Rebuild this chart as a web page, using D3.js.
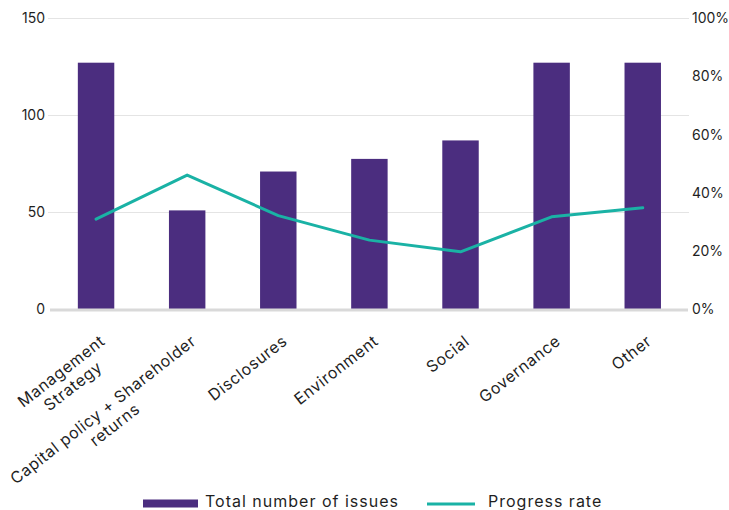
<!DOCTYPE html>
<html>
<head>
<meta charset="utf-8">
<script src="https://cdn.jsdelivr.net/npm/d3@7"></script>
<style>
  html, body { margin: 0; padding: 0; background: #fff; }
  svg { display: block; font-family: Inter, "Open Sans", sans-serif; }
</style>
</head>
<body>
<svg id="chart" width="729" height="510"></svg>
<script>
// ---- data ----
const categories = [
  "Management\nStrategy",
  "Capital policy + Shareholder\nreturns",
  "Disclosures",
  "Environment",
  "Social",
  "Governance",
  "Other"
];
const totalIssues = [127, 51, 71, 77.5, 87, 127, 127];
const progressRate = [0.31, 0.461, 0.322, 0.238, 0.198, 0.318, 0.349];
const leftTicks = [0, 50, 100, 150];
const rightTicks = [0, 0.2, 0.4, 0.6, 0.8, 1.0];
const seriesNames = ["Total number of issues", "Progress rate"];

// ---- styles ----
const purple = "#4B2D7F";
const teal = "#1AB2A5";
const textColor = "#1f1f1f";

const svg = d3.select("#chart");

const x = d3.scaleBand().domain(categories).range([50.5, 688.3]).paddingInner(0.6).paddingOuter(0.3);
const y = d3.scaleLinear().domain([0, 150]).range([309.5, 18]);
const yR = d3.scaleLinear().domain([0, 1]).range([309.5, 18]);
const cx = c => x(c) + x.bandwidth() / 2;

// gridlines
svg.append("g").selectAll("line")
  .data(leftTicks.filter(d => d > 0))
  .join("line")
  .attr("x1", 48).attr("x2", 689)
  .attr("y1", d => Math.round(y(d)) + 0.5).attr("y2", d => Math.round(y(d)) + 0.5)
  .attr("stroke", "#e4e4e4").attr("stroke-width", 1);

// bars
svg.append("g").selectAll("rect")
  .data(categories)
  .join("rect")
  .attr("x", c => x(c))
  .attr("width", x.bandwidth())
  .attr("y", (c, i) => y(totalIssues[i]))
  .attr("height", (c, i) => y(0) - y(totalIssues[i]))
  .attr("fill", purple);

// baseline
svg.append("line")
  .attr("x1", 50).attr("x2", 688)
  .attr("y1", y(0) + 0.6).attr("y2", y(0) + 0.6)
  .attr("stroke", "#d9d9d9").attr("stroke-width", 3);

// line
const line = d3.line()
  .x((d, i) => cx(categories[i]))
  .y(d => yR(d));
svg.append("path")
  .datum(progressRate)
  .attr("d", line)
  .attr("fill", "none")
  .attr("stroke", teal)
  .attr("stroke-width", 3)
  .attr("stroke-linejoin", "round")
  .attr("stroke-linecap", "round");

// left axis
const gL = svg.append("g")
  .attr("transform", "translate(49,0)")
  .call(d3.axisLeft(y).tickValues(leftTicks).tickSize(0).tickPadding(4));
gL.select(".domain").remove();
gL.selectAll("text").attr("font-size", 14).attr("fill", textColor).attr("font-family", "Inter, sans-serif");

// right axis
const gR = svg.append("g")
  .attr("transform", "translate(689,0)")
  .call(d3.axisRight(yR).tickValues(rightTicks).tickFormat(d3.format(".0%")).tickSize(0).tickPadding(3));
gR.select(".domain").remove();
gR.selectAll("text").attr("font-size", 14).attr("fill", textColor).attr("font-family", "Inter, sans-serif");

// category labels (rotated, centered multi-line blocks anchored top-right)
const angle = -38;
const lineH = 19;
const labelG = svg.append("g");
categories.forEach(c => {
  const lines = c.split("\n");
  const g = labelG.append("g")
    .attr("transform", `translate(${cx(c) + 2},${333}) rotate(${angle})`);
  const texts = lines.map((l, i) => g.append("text")
    .text(l)
    .attr("font-size", 16)
    .attr("letter-spacing", "0.6px")
    .attr("fill", textColor)
    .attr("y", 13 + i * lineH));
  const widths = texts.map(t => t.node().getComputedTextLength());
  const W = d3.max(widths);
  texts.forEach(t => t.attr("text-anchor", "middle").attr("x", -W / 2));
});

// legend
const leg = svg.append("g");
leg.append("rect").attr("x", 143).attr("y", 499.5).attr("width", 55).attr("height", 8).attr("fill", purple);
leg.append("text").attr("x", 205).attr("y", 507).text(seriesNames[0])
  .attr("font-size", 16).attr("letter-spacing", "1px").attr("fill", textColor);
leg.append("line").attr("x1", 427).attr("x2", 475).attr("y1", 504).attr("y2", 504)
  .attr("stroke", teal).attr("stroke-width", 3);
leg.append("text").attr("x", 488).attr("y", 507).text(seriesNames[1])
  .attr("font-size", 16).attr("letter-spacing", "1px").attr("fill", textColor);
</script>
</body>
</html>
